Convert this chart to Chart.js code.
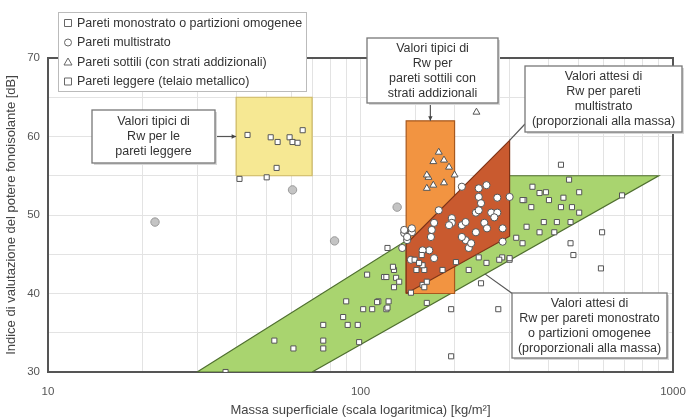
<!DOCTYPE html>
<html><head><meta charset="utf-8">
<script src="https://cdn.jsdelivr.net/npm/chart.js@4/dist/chart.umd.min.js"></script>
<style>html,body{margin:0;padding:0;background:#fff}#wrap{width:686px;height:420px;position:relative}</style>
</head><body><div id="wrap"><canvas id="c" width="686" height="420"></canvas></div>
<script>
const FONT = "'Liberation Sans', Arial, sans-serif";

// ---- labels ----
const seriesLabels = ['Pareti monostrato o partizioni omogenee','Pareti multistrato','Pareti sottili (con strati addizionali)','Pareti leggere (telaio metallico)'];
const xTickLabels = [10, 100, 1000];
const yTickLabels = [30, 40, 50, 60, 70];
const xTitle = 'Massa superficiale (scala logaritmica) [kg/m²]';
const yTitle = 'Indice di valutazione del potere fonoisolante [dB]';

// ---- data (mass kg/m², Rw dB) ----
const monoX = [37,53,61,76,76,76,90,88,91,98,102,109,114,121,123,105,99,119,128,130,128,113,122,163,122,127,121,133,195,276,195,
  438,465,501,355,374,392,401,334,352,446,438,475,501,470,425,386,374,417,315,330,284,300,687,593,470,480,588,330,340,222,243,253,239,278,300,183,202,160,158,160,145,163,151,158,149,154,157];
const monoY = [30,34,33,36,34,33,39,37,36,36,38,38,39,38,39,42.4,33.8,42.1,43,42,40.8,38.9,38.2,38.8,45.8,43.4,42.1,41.5,38,38,32,
  56.4,54.5,52.9,53.6,52.8,52.9,51.9,51.9,51,52.2,51,51,50.3,49.1,49.1,49.1,47.8,47.8,47.1,46.4,44.6,44.3,52.5,47.8,46.4,44.9,43.2,51.9,48.5,43,41.3,43.9,44.6,44.3,44.5,43,44,43,41.1,40.8,40.1,41.5,43,43.6,44.3,43.9,44.9];
const multiX = [178,196,196,211,217,239,243,253,274,300,234,262,274,249,234,217,222,169,166,158,172,285,211,239,268,239,254,285,192,172,168,211,226,136,138,141,146,145,146,138,141];
const multiY = [50.6,49.6,49,48.7,49.1,52.3,51.5,53.8,52.2,52.3,50.3,50.3,50.3,49,47.8,46.8,45.8,48.1,45.5,45.5,44.5,46.6,53.6,53.4,49.7,50.6,48.3,48.3,48.7,49,47.2,47.2,46.4,45.8,47.7,46.8,47.8,44.3,48.3,48.1,47.2];
const triX = [178,171,185,192,165,171,163,200,235,163,185];
const triY = [58,56.8,57,56.1,54.8,53.8,53.4,55.1,63.1,55.1,54.1];
const legX = [43.5,51.6,54.3,59.3,60.6,62.9,65.3,41,50.1,53.9];
const legY = [60.2,59.9,59.3,59.9,59.3,59.2,60.8,54.6,54.8,56];
const grayX = [22,60.6,82.6,131];
const grayY = [49.1,53.2,46.7,51];

// ---- zones (polygon vertices) ----
const greenX = [30,70,900,300];   const greenY = [30,30,55,55];
const yellowX = [40,70,70,40];    const yellowY = [55,55,65,65];
const orangeX = [140,200,200,140]; const orangeY = [40,40,62,62];
const redX = [140,300,300,140];   const redY = [40,47.3,59.5,46.3];

const pts = (xs, ys) => xs.map((v, i) => ({x: v, y: ys[i]}));
const poly = (xs, ys) => { const p = pts(xs, ys); p.push(p[0]); return p; };

const ptBase = {type:'scatter', backgroundColor:'#ffffff', borderColor:'#555', borderWidth:1, pointRadius:3.6, order:0};
const zone = (data, fill, border, ord) => ({type:'line', data, showLine:true, fill:'shape', backgroundColor:fill, borderColor:border, borderWidth:1.2, pointRadius:0, tension:0, order:ord});

const datasets = [
  Object.assign({}, ptBase, {label: seriesLabels[0], data: pts(monoX, monoY), pointStyle:'rect'}),
  Object.assign({}, ptBase, {label: seriesLabels[1], data: pts(multiX, multiY), pointStyle:'circle'}),
  Object.assign({}, ptBase, {label: seriesLabels[2], data: pts(triX, triY), pointStyle:'triangle', pointRadius:4}),
  Object.assign({}, ptBase, {label: seriesLabels[3], data: pts(legX, legY), pointStyle:'rect'}),
  Object.assign({}, ptBase, {label: 'altro', data: pts(grayX, grayY), pointStyle:'circle', backgroundColor:'#c4c4c4', borderColor:'#999', pointRadius:4.2}),
  zone(poly(redX, redY), '#c95a2f', '#7e3417', 1),
  zone(poly(orangeX, orangeY), '#f29441', '#a7581e', 2),
  zone(poly(yellowX, yellowY), '#f6e893', '#cdb863', 3),
  zone(poly(greenX, greenY), '#a9d46f', '#4f6f2f', 4)
];

const boxes = [
  {r:[92,110,215,163], lines:['Valori tipici di','Rw per le','pareti leggere']},
  {r:[367,38,498,103], lines:['Valori tipici di','Rw per','pareti sottili con','strati addizionali']},
  {r:[525,66,682,132], lines:['Valori attesi di','Rw per pareti','multistrato','(proporzionali alla massa)']},
  {r:[512,293,667,358], lines:['Valori attesi di','Rw per pareti monostrato','o partizioni omogenee','(proporzionali alla massa)']}
];

function arrow(ctx, x0, y0, x1, y1) {
  ctx.beginPath(); ctx.moveTo(x0, y0); ctx.lineTo(x1, y1); ctx.stroke();
  const a = Math.atan2(y1 - y0, x1 - x0), s = 5;
  ctx.beginPath(); ctx.moveTo(x1, y1);
  ctx.lineTo(x1 - s*Math.cos(a - 0.45), y1 - s*Math.sin(a - 0.45));
  ctx.lineTo(x1 - s*Math.cos(a + 0.45), y1 - s*Math.sin(a + 0.45));
  ctx.closePath(); ctx.fill();
}
function marker(ctx, style, x, y) {
  ctx.fillStyle = '#fff'; ctx.strokeStyle = '#666'; ctx.lineWidth = 1;
  ctx.beginPath();
  if (style === 'rect') ctx.rect(x-3.5, y-3.5, 7, 7);
  else if (style === 'circle') ctx.arc(x, y, 3.5, 0, Math.PI*2);
  else { ctx.moveTo(x, y-4); ctx.lineTo(x+4, y+3); ctx.lineTo(x-4, y+3); ctx.closePath(); }
  ctx.fill(); ctx.stroke();
}

const overlay = {
  id: 'overlay',
  afterDraw(chart) {
    const {ctx, chartArea: a, scales: {x, y}} = chart;
    ctx.save();
    // frame
    ctx.strokeStyle = '#555'; ctx.lineWidth = 2;
    ctx.beginPath(); ctx.moveTo(a.left, a.top); ctx.lineTo(a.right, a.top); ctx.lineTo(a.right, a.bottom); ctx.stroke();
    // pointers
    ctx.strokeStyle = '#555'; ctx.fillStyle = '#444'; ctx.lineWidth = 1.2;
    arrow(ctx, 215, y.getPixelForValue(60), x.getPixelForValue(40), y.getPixelForValue(60));
    const tx = x.getPixelForValue(Math.sqrt(140*200));
    arrow(ctx, tx, 103, tx, y.getPixelForValue(62));
    ctx.beginPath(); ctx.moveTo(525, 124); ctx.lineTo(x.getPixelForValue(300), y.getPixelForValue(59.5)); ctx.stroke();
    ctx.beginPath(); ctx.moveTo(513, 294); ctx.lineTo(x.getPixelForValue(250), y.getPixelForValue(42.5)); ctx.stroke();
    // boxes
    ctx.font = '12.5px ' + FONT; ctx.textAlign = 'center'; ctx.textBaseline = 'middle';
    boxes.forEach(b => {
      const [x0, y0, x1, y1] = b.r;
      ctx.fillStyle = '#d8d8d8'; ctx.fillRect(x0+2, y0+2, x1-x0, y1-y0);
      ctx.fillStyle = '#fff'; ctx.fillRect(x0, y0, x1-x0, y1-y0);
      ctx.strokeStyle = '#777'; ctx.lineWidth = 1.3; ctx.strokeRect(x0, y0, x1-x0, y1-y0);
      const lh = 15, cy = (y0+y1)/2 + 0.5, n = b.lines.length;
      ctx.fillStyle = '#333';
      b.lines.forEach((t, i) => ctx.fillText(t, (x0+x1)/2, cy + (i - (n-1)/2)*lh));
    });
    // legend
    ctx.fillStyle = '#fff'; ctx.fillRect(58, 12, 248, 79);
    ctx.strokeStyle = '#bbb'; ctx.lineWidth = 1; ctx.strokeRect(58.5, 12.5, 248, 79);
    const styles = ['rect','circle','triangle','rect'];
    ctx.textAlign = 'left'; ctx.font = '12.5px ' + FONT;
    seriesLabels.forEach((t, i) => {
      const ly = 23 + i*19.5;
      marker(ctx, styles[i], 68, ly);
      ctx.fillStyle = '#333'; ctx.fillText(t, 77, ly + 0.5);
    });
    ctx.restore();
  }
};

new Chart(document.getElementById('c'), {
  type: 'scatter',
  data: {datasets},
  options: {
    responsive: false, animation: false,
    layout: {padding: {left: 0, right: 13, top: 58, bottom: 0}},
    plugins: {legend: {display: false}, tooltip: {enabled: false}},
    scales: {
      x: {
        type: 'logarithmic', min: 10, max: 1000,
        afterFit: s => { s.height = 48; s.paddingRight = 0; s.paddingLeft = 0; },
        grid: {color: '#e3e3e3', drawTicks: false},
        border: {color: '#555', width: 2},
        ticks: {autoSkip: false, maxRotation: 0, padding: 13, color: '#555', font: {family: FONT, size: 11.5},
          callback: v => xTickLabels.includes(Math.round(v)) && Math.abs(v - Math.round(v)) < 1e-6 ? String(Math.round(v)) : ''},
        title: {display: true, text: xTitle, color: '#444', font: {family: FONT, size: 13}, padding: {top: 0, bottom: 2}}
      },
      y: {
        min: 30, max: 70,
        afterFit: s => { s.width = 48; s.paddingTop = 0; s.paddingBottom = 0; },
        grid: {color: '#e3e3e3', drawTicks: false},
        border: {color: '#555', width: 2},
        ticks: {stepSize: 5, padding: 8, color: '#555', font: {family: FONT, size: 11.5},
          callback: v => yTickLabels.includes(v) ? String(v) : ''},
        title: {display: true, text: yTitle, color: '#444', font: {family: FONT, size: 13}, padding: {top: 4, bottom: 0}}
      }
    }
  },
  plugins: [overlay]
});
</script></body></html>
